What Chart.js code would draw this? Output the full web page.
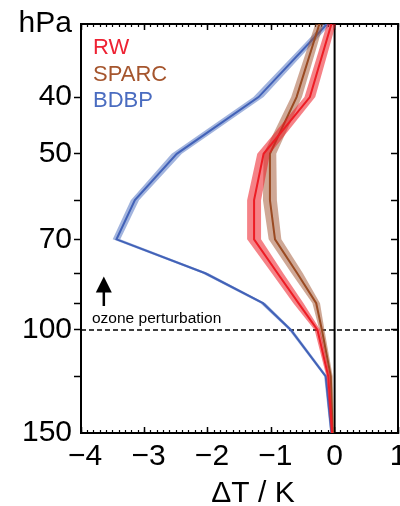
<!DOCTYPE html>
<html>
<head>
<meta charset="utf-8">
<script src="https://cdn.jsdelivr.net/npm/chart.js@4.4.1/dist/chart.umd.min.js"></script>
<style>
  html, body { margin: 0; padding: 0; background: #fff; }
  #wrap { width: 400px; height: 506px; position: relative; }
</style>
</head>
<body>
<div id="wrap"><canvas id="profile"></canvas></div>
<script>
// ===== DATA =====
// pressure levels (hPa), top of plot to bottom
const levels = [30, 40, 50, 60, 70, 80, 90, 100, 120, 150];

// temperature change (K) at each level
const rw    = [-0.05, -0.39, -1.12, -1.27, -1.27, -0.90, -0.57, -0.27, -0.10, -0.04];
const sparc = [-0.24, -0.60, -1.02, -1.02, -0.94, -0.59, -0.29, -0.20, -0.06, -0.03];
const bdbp  = [-0.12, -1.20, -2.49, -3.15, -3.44, -2.04, -1.13, -0.69, -0.14, -0.05];

// half width of the shaded spread (K)
const rwSpread    = [0.07, 0.085, 0.10, 0.11, 0.11, 0.09, 0.08, 0.045, 0.03, 0.02];
const sparcSpread = [0.065, 0.085, 0.10, 0.11, 0.10, 0.09, 0.06, 0.04, 0.03, 0.02];
const bdbpSpread  = [0.06, 0.08, 0.08, 0.065, 0.06, 0.05, 0.04, 0.03, 0.025, 0.02];

const seriesNames = ['RW', 'SPARC', 'BDBP'];

const xTickValues = [-4, -3, -2, -1, 0, 1];
const xTickLabels = [' \u22124', ' \u22123', ' \u22122', ' \u22121', '0', '1'];
const yTickValues = [30, 40, 50, 60, 70, 80, 90, 100, 120, 150];
const yTickLabels = ['hPa', '40', '50', '', '70', '', '', '100', '', '150'];
const yTickMarks  = [40, 50, 60, 70, 80, 90, 100, 120];

// ===== STYLE =====
const FONT = "'Liberation Sans', Arial, Helvetica, sans-serif";
const lineColors = ['#ed1c24', '#9a4a22', '#4262b8'];
const bandColors = ['rgba(237, 28, 36, 0.55)', 'rgba(160, 82, 45, 0.5)', 'rgba(70, 105, 190, 0.5)'];
const textColors = ['#ee2233', '#a5552d', '#4a6cc0'];

Chart.defaults.font.family = FONT;

function edge(vals, spread, sign) {
    return levels.map((p, i) => ({ x: vals[i] + sign * spread[i], y: p }));
}

function center(vals) {
    return levels.map((p, i) => ({ x: vals[i], y: p }));
}

const datasets = [];
[[rw, rwSpread], [sparc, sparcSpread], [bdbp, bdbpSpread]].forEach(([vals, spread], k) => {
    const base = k * 3;
    datasets.push({
        label: seriesNames[k] + ' low',
        data: edge(vals, spread, -1),
        borderWidth: 0, pointRadius: 0, fill: false,
        order: base + 2,
    });
    datasets.push({
        label: seriesNames[k] + ' high',
        data: edge(vals, spread, 1),
        borderWidth: 0, pointRadius: 0,
        fill: '-1', backgroundColor: bandColors[k],
        order: base + 2,
    });
    datasets.push({
        label: seriesNames[k],
        data: center(vals),
        borderColor: lineColors[k], borderWidth: 2, pointRadius: 0,
        fill: false, tension: 0,
        order: base + 1,
    });
});

const markColor = ctx => yTickMarks.includes(ctx.tick && ctx.tick.value) ? '#000' : 'rgba(0,0,0,0)';
const noPad = s => { s.paddingLeft = 0; s.paddingRight = 0; s.paddingTop = 0; s.paddingBottom = 0; };

// extra marks: zero line, 100 hPa dashed line, arrow, texts
const annotations = {
    id: 'annotations',
    beforeDatasetsDraw(chart) {
        const { ctx, chartArea: a, scales: { x, y } } = chart;
        ctx.save();
        ctx.strokeStyle = '#000';
        ctx.lineWidth = 1.5;
        ctx.setLineDash([5, 3]);
        const y100 = y.getPixelForValue(100);
        ctx.beginPath();
        ctx.moveTo(a.left, y100);
        ctx.lineTo(a.right, y100);
        ctx.stroke();
        ctx.setLineDash([]);
        ctx.lineWidth = 2;
        const x0 = x.getPixelForValue(0);
        ctx.beginPath();
        ctx.moveTo(x0, a.top);
        ctx.lineTo(x0, a.bottom);
        ctx.stroke();
        ctx.restore();
    },
    afterDatasetsDraw(chart) {
        const { ctx, scales: { x, y } } = chart;
        ctx.save();
        // legend texts
        ctx.font = '22px ' + FONT;
        ctx.textAlign = 'left';
        ctx.textBaseline = 'alphabetic';
        const legendY = [54, 80.5, 107];
        seriesNames.forEach((name, k) => {
            ctx.fillStyle = textColors[k];
            ctx.fillText(name, 93, legendY[k]);
        });
        // arrow
        const ax = x.getPixelForValue(-3.64);
        const tip = y.getPixelForValue(81);
        const tail = y.getPixelForValue(91);
        ctx.strokeStyle = '#000';
        ctx.fillStyle = '#000';
        ctx.lineWidth = 2.5;
        ctx.beginPath();
        ctx.moveTo(ax, tail);
        ctx.lineTo(ax, tip + 10);
        ctx.stroke();
        ctx.beginPath();
        ctx.moveTo(ax, tip);
        ctx.lineTo(ax - 8, tip + 16);
        ctx.lineTo(ax + 8, tip + 16);
        ctx.closePath();
        ctx.fill();
        // perturbation label
        ctx.font = '15.5px ' + FONT;
        ctx.fillText('ozone perturbation', 92, 323);
        // x axis title
        ctx.font = '30px ' + FONT;
        ctx.textAlign = 'center';
        ctx.fillText('\u0394T / K', 253, 502);
        ctx.restore();
    }
};

new Chart(document.getElementById('profile'), {
    type: 'line',
    data: { datasets },
    options: {
        indexAxis: 'y',
        responsive: true,
        maintainAspectRatio: false,
        animation: false,
        layout: { padding: 0 },
        plugins: { legend: { display: false }, tooltip: { enabled: false } },
        scales: {
            x: {
                type: 'linear', position: 'bottom', min: -4, max: 1,
                afterBuildTicks: s => { s.ticks = xTickValues.map(v => ({ value: v })); },
                ticks: {
                    callback: v => xTickLabels[xTickValues.indexOf(v)],
                    font: { size: 30 }, color: '#000', padding: 12, maxRotation: 0, autoSkip: false,
                },
                grid: { drawOnChartArea: false, tickLength: -6, tickColor: '#000', tickWidth: 1.5 },
                border: { color: '#000', width: 2 },
                afterFit: s => { s.height = 73; noPad(s); },
            },
            xTop: {
                type: 'linear', position: 'top', min: -4, max: 1,
                afterBuildTicks: s => { s.ticks = xTickValues.map(v => ({ value: v })); },
                ticks: { display: false },
                grid: { drawOnChartArea: false, tickLength: -6, tickColor: '#000', tickWidth: 1.5 },
                border: { color: '#000', width: 2 },
                afterFit: s => { s.height = 24; noPad(s); },
            },
            xMinorB: {
                type: 'linear', position: { y: 150 }, min: -4, max: 1,
                ticks: { display: false, stepSize: 0.1 },
                grid: { drawOnChartArea: false, tickLength: -3, tickColor: '#000', tickWidth: 1.2 },
                border: { display: false },
                afterFit: noPad,
            },
            xMinorT: {
                type: 'linear', position: { y: 30 }, min: -4, max: 1,
                ticks: { display: false, stepSize: 0.1 },
                grid: { drawOnChartArea: false, tickLength: 3, tickColor: '#000', tickWidth: 1.2 },
                border: { display: false },
                afterFit: noPad,
            },
            y: {
                type: 'logarithmic', position: 'left', min: 30, max: 150, reverse: true,
                afterBuildTicks: s => { s.ticks = yTickValues.map(v => ({ value: v })); },
                ticks: {
                    callback: v => yTickLabels[yTickValues.indexOf(v)],
                    font: { size: 30 }, color: '#000', padding: 2, autoSkip: false,
                },
                grid: { drawOnChartArea: false, tickLength: 7, tickColor: markColor, tickWidth: 1.5 },
                border: { color: '#000', width: 2 },
                afterFit: s => { s.width = 81; noPad(s); },
            },
            yRight: {
                type: 'logarithmic', position: 'right', min: 30, max: 150, reverse: true,
                afterBuildTicks: s => { s.ticks = yTickValues.map(v => ({ value: v })); },
                ticks: { display: false },
                grid: { drawOnChartArea: false, tickLength: -7, tickColor: markColor, tickWidth: 1.5 },
                border: { color: '#000', width: 2 },
                afterFit: s => { s.width = 2; noPad(s); },
            },
        },
    },
    plugins: [annotations],
});
</script>
</body>
</html>
